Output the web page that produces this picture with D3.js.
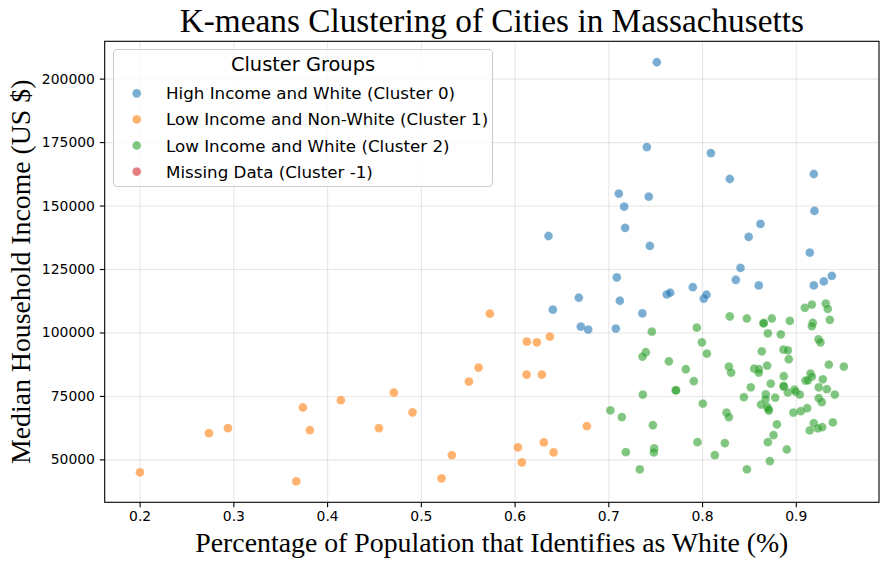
<!DOCTYPE html>
<html>
<head>
<meta charset="utf-8">
<script src="https://cdn.jsdelivr.net/npm/d3@7"></script>
<style>
  html, body { margin: 0; padding: 0; background: #fff; }
  svg { display: block; }
  .tick text { font-family: "DejaVu Sans", sans-serif; font-size: 13.9px; fill: #000; }
</style>
</head>
<body>
<div id="chart"></div>
<script>
// cluster names (legend order)
const clusterNames = [
  "High Income and White (Cluster 0)",
  "Low Income and Non-White (Cluster 1)",
  "Low Income and White (Cluster 2)",
  "Missing Data (Cluster -1)"
];
const clusterColors = ["#1f77b4", "#ff7f0e", "#2ca02c", "#d62728"];

// [share white, median household income]
const cluster0 = [
  [0.7517, 206450], [0.7411, 173040], [0.8094, 170680], [0.8296, 160460],
  [0.9192, 162430], [0.7112, 154680], [0.7431, 153500], [0.7169, 149570],
  [0.9199, 147880], [0.8623, 142770], [0.7179, 141200], [0.8497, 137660],
  [0.6362, 138000], [0.7443, 134130], [0.9149, 131490], [0.8410, 125480],
  [0.7090, 121660], [0.8360, 120760], [0.9384, 122330], [0.9299, 120090],
  [0.9192, 118520], [0.8605, 118520], [0.7901, 117850], [0.7624, 114980],
  [0.7660, 115650], [0.8018, 113290], [0.8047, 114860], [0.7363, 107530],
  [0.7080, 101550], [0.6685, 113680], [0.6408, 108970], [0.7123, 112500],
  [0.6707, 102280], [0.6785, 101100]
];

const cluster1 = [
  [0.2003, 44890], [0.2739, 60340], [0.2942, 62300], [0.3742, 70440],
  [0.3816, 61520], [0.3671, 41350], [0.4147, 73310], [0.4553, 62300],
  [0.4712, 76340], [0.4912, 68480], [0.5221, 42530], [0.5331, 51690],
  [0.5513, 80660], [0.5616, 86170], [0.5736, 107390], [0.6035, 54720],
  [0.6077, 48820], [0.6131, 96390], [0.6237, 96110], [0.6376, 98350],
  [0.6128, 83410], [0.6291, 83410], [0.6312, 56680], [0.6416, 52750],
  [0.6771, 63090]
];

const cluster2 = [
  [0.9096, 109700], [0.9171, 111000], [0.9320, 111400], [0.9341, 109300],
  [0.8296, 106300], [0.8478, 105500], [0.8659, 103800], [0.8655, 103600],
  [0.8744, 105500], [0.8936, 104600], [0.9181, 103800], [0.9171, 102500],
  [0.9363, 105000], [0.7464, 100300], [0.7944, 101900], [0.8702, 99650],
  [0.8840, 99250], [0.9242, 97300], [0.9263, 96100], [0.7998, 96100],
  [0.7400, 92200], [0.7365, 90500], [0.8051, 91650], [0.8637, 92550],
  [0.8869, 93250], [0.8915, 92950], [0.8925, 89450], [0.7646, 88650],
  [0.8286, 86550], [0.8310, 84200], [0.7827, 85500], [0.8556, 85750],
  [0.8605, 85500], [0.8605, 84200], [0.8694, 86950], [0.9352, 87350],
  [0.9512, 86550], [0.7912, 80800], [0.8872, 82750], [0.9157, 83800],
  [0.9171, 82600], [0.9103, 81050], [0.9128, 81150], [0.9288, 81550],
  [0.7720, 77250], [0.7722, 77150], [0.8520, 78400], [0.8733, 79850],
  [0.8869, 78950], [0.8872, 78700], [0.9245, 78400], [0.9331, 77650],
  [0.7368, 75550], [0.8680, 75650], [0.8677, 73700], [0.8780, 74350],
  [0.8915, 76350], [0.8986, 77500], [0.8997, 76700], [0.9043, 75550],
  [0.9416, 75550], [0.8446, 74500], [0.8008, 72000], [0.8630, 71600],
  [0.8694, 70700], [0.8712, 69250], [0.8709, 69750], [0.9245, 74100],
  [0.9277, 72550], [0.7022, 69300], [0.7144, 66650], [0.8261, 68450],
  [0.8286, 66650], [0.8975, 68450], [0.9053, 69000], [0.9121, 70150],
  [0.7475, 63500], [0.8798, 63750], [0.9192, 64250], [0.9149, 61400],
  [0.9235, 62200], [0.9281, 62700], [0.9395, 64550], [0.8762, 59550],
  [0.7187, 52850], [0.7489, 54300], [0.7486, 52750], [0.7951, 56800],
  [0.8243, 56400], [0.8702, 56800], [0.8136, 51700], [0.8904, 53900],
  [0.7336, 46050], [0.8478, 46050], [0.8723, 49350]
];

const clusterMissing = [];

const xTicks = [0.2, 0.3, 0.4, 0.5, 0.6, 0.7, 0.8, 0.9];
const yTicks = [50000, 75000, 100000, 125000, 150000, 175000, 200000];

const width = 889;
const height = 568;
const margin = { top: 41.3, right: 10, bottom: 65.7, left: 104.7 };
const innerW = width - margin.left - margin.right;
const innerH = height - margin.top - margin.bottom;

const groups = [cluster0, cluster1, cluster2, clusterMissing];
const allPts = groups.flat();

// matplotlib style 5% padding
function padded(ext) {
  const p = (ext[1] - ext[0]) * 0.05;
  return [ext[0] - p, ext[1] + p];
}

const x = d3.scaleLinear()
  .domain(padded(d3.extent(allPts, d => d[0])))
  .range([0, innerW]);
const y = d3.scaleLinear()
  .domain(padded(d3.extent(allPts, d => d[1])))
  .range([innerH, 0]);

const svg = d3.select("#chart").append("svg")
  .attr("width", width)
  .attr("height", height);

const g = svg.append("g")
  .attr("transform", `translate(${margin.left},${margin.top})`);

// grid
g.append("g")
  .attr("transform", `translate(0,${innerH})`)
  .call(d3.axisBottom(x).tickValues(xTicks).tickSize(-innerH).tickFormat(""))
  .call(a => a.select(".domain").remove())
  .call(a => a.selectAll("line").attr("stroke", "#b0b0b0").attr("stroke-opacity", 0.3).attr("stroke-width", 1.1));
g.append("g")
  .call(d3.axisLeft(y).tickValues(yTicks).tickSize(-innerW).tickFormat(""))
  .call(a => a.select(".domain").remove())
  .call(a => a.selectAll("line").attr("stroke", "#b0b0b0").attr("stroke-opacity", 0.3).attr("stroke-width", 1.1));

// points
groups.forEach((pts, i) => {
  g.append("g")
    .selectAll("circle")
    .data(pts)
    .enter()
    .append("circle")
    .attr("cx", d => x(d[0]))
    .attr("cy", d => y(d[1]))
    .attr("r", 4.4)
    .attr("fill", clusterColors[i])
    .attr("fill-opacity", 0.6)
    .attr("stroke", "#fff")
    .attr("stroke-opacity", 0.4)
    .attr("stroke-width", 0.5);
});

// axes
g.append("g")
  .attr("transform", `translate(0,${innerH})`)
  .call(d3.axisBottom(x).tickValues(xTicks).tickSize(4.9).tickPadding(4.2).tickFormat(d3.format(".1f")))
  .call(a => a.select(".domain").remove())
  .call(a => a.selectAll("line").attr("stroke", "#000").attr("stroke-width", 1.1));
g.append("g")
  .call(d3.axisLeft(y).tickValues(yTicks).tickSize(4.9).tickPadding(4.9).tickFormat(d3.format("d")))
  .call(a => a.select(".domain").remove())
  .call(a => a.selectAll("line").attr("stroke", "#000").attr("stroke-width", 1.1));

// frame
g.append("rect")
  .attr("width", innerW)
  .attr("height", innerH)
  .attr("fill", "none")
  .attr("stroke", "#000")
  .attr("stroke-width", 1.1);

// titles
svg.append("text")
  .attr("x", margin.left + innerW / 2)
  .attr("y", 32)
  .attr("text-anchor", "middle")
  .style("font-family", "'Liberation Serif', 'Times New Roman', serif")
  .style("font-size", "33.3px")
  .text("K-means Clustering of Cities in Massachusetts");

svg.append("text")
  .attr("x", margin.left + innerW / 2)
  .attr("y", 552)
  .attr("text-anchor", "middle")
  .style("font-family", "'Liberation Serif', 'Times New Roman', serif")
  .style("font-size", "27.8px")
  .text("Percentage of Population that Identifies as White (%)");

svg.append("text")
  .attr("transform", `translate(30,${margin.top + innerH / 2}) rotate(-90)`)
  .attr("text-anchor", "middle")
  .style("font-family", "'Liberation Serif', 'Times New Roman', serif")
  .style("font-size", "27.8px")
  .text("Median Household Income (US $)");

// legend
const legend = svg.append("g");
legend.append("rect")
  .attr("x", 113.5)
  .attr("y", 49.5)
  .attr("width", 379)
  .attr("height", 137)
  .attr("rx", 4)
  .attr("fill", "#fff")
  .attr("fill-opacity", 0.8)
  .attr("stroke", "#cccccc")
  .attr("stroke-width", 1.1);

legend.append("text")
  .attr("x", 303)
  .attr("y", 71)
  .attr("text-anchor", "middle")
  .style("font-family", "'DejaVu Sans', sans-serif")
  .style("font-size", "19.4px")
  .text("Cluster Groups");

clusterNames.forEach((name, i) => {
  const cy = 93.3 + i * 26.1;
  legend.append("circle")
    .attr("cx", 136.7)
    .attr("cy", cy)
    .attr("r", 4.4)
    .attr("fill", clusterColors[i])
    .attr("fill-opacity", 0.6)
    .attr("stroke", "#fff")
    .attr("stroke-opacity", 0.4)
    .attr("stroke-width", 0.5);
  legend.append("text")
    .attr("x", 166)
    .attr("y", cy + 6)
    .style("font-family", "'DejaVu Sans', sans-serif")
    .style("font-size", "16.7px")
    .text(name);
});
</script>
</body>
</html>
